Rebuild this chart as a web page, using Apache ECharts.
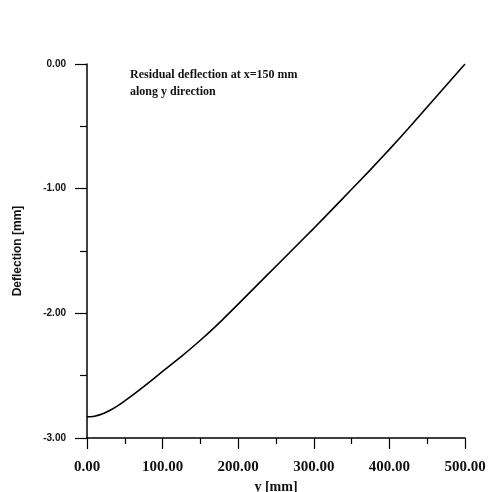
<!DOCTYPE html>
<html>
<head>
<meta charset="utf-8">
<script src="https://cdn.jsdelivr.net/npm/echarts@6/dist/echarts.min.js"></script>
<style>html,body{margin:0;padding:0;background:#fff}#c{width:489px;height:492px}</style>
</head>
<body>
<div id="c"></div>
<script>
const yPositions = [0, 5, 10, 20, 30, 40, 50, 75, 100, 125, 150, 175, 200, 225, 250, 275, 300, 325, 350, 375, 400, 425, 450, 475, 500];
const deflection = [-2.83, -2.829, -2.825, -2.807, -2.779, -2.744, -2.703, -2.588, -2.466, -2.345, -2.216, -2.076, -1.926, -1.774, -1.622, -1.47, -1.318, -1.162, -1.005, -0.8475, -0.685, -0.5175, -0.345, -0.1725, 0.0];
const xTicks = [0, 100, 200, 300, 400, 500];
const yTicks = [-3, -2, -1, 0];
const annotation = ['Residual deflection at x=150 mm', 'along y direction'];

const chart = echarts.init(document.getElementById('c'), null, {renderer: 'canvas'});
const serif = '"Liberation Serif", "DejaVu Serif", serif';
const sans = '"Liberation Sans", Arial, sans-serif';
chart.setOption({
  animation: false,
  backgroundColor: '#fff',
  grid: {left: 87, right: 24, top: 64, bottom: 54, containLabel: false, outerBoundsMode: 'none'},
  xAxis: {
    type: 'value', min: xTicks[0], max: xTicks[xTicks.length-1], interval: 100,
    name: 'y [mm]', nameLocation: 'middle', nameGap: 37,
    nameTextStyle: {fontFamily: serif, fontSize: 14, fontWeight: 'bold', color: '#111'},
    axisLine: {show: true, onZero: false, lineStyle: {color: '#000', width: 1.5}},
    axisTick: {show: true, inside: false, length: 11, lineStyle: {color: '#000', width: 1.2}},
    minorTick: {show: true, splitNumber: 2, length: 6, lineStyle: {color: '#000', width: 1.2}},
    splitLine: {show: false},
    axisLabel: {margin: 22, fontFamily: serif, fontSize: 15, fontWeight: 'bold', color: '#111',
      formatter: v => v.toFixed(2)}
  },
  yAxis: {
    type: 'value', min: yTicks[0], max: yTicks[yTicks.length-1], interval: 1,
    name: 'Deflection [mm]', nameLocation: 'middle', nameGap: 63, nameRotate: 90,
    nameTextStyle: {fontFamily: sans, fontSize: 12, fontWeight: 'bold', color: '#111'},
    axisLine: {show: true, onZero: false, lineStyle: {color: '#000', width: 1.5}},
    axisTick: {show: true, inside: false, length: 12, lineStyle: {color: '#000', width: 1.2}},
    minorTick: {show: true, splitNumber: 2, length: 7, lineStyle: {color: '#000', width: 1.2}},
    splitLine: {show: false},
    axisLabel: {margin: 21, fontFamily: sans, fontSize: 10, fontWeight: 'bold', color: '#111',
      formatter: v => v.toFixed(2)}
  },
  graphic: [{
    type: 'text', left: 130, top: 66,
    style: {text: annotation.join('\n'), font: 'bold 12px ' + serif, fill: '#111', lineHeight: 17}
  }],
  series: [{
    type: 'line', smooth: 0.15, showSymbol: false,
    data: yPositions.map((x, i) => [x, deflection[i]]),
    lineStyle: {color: '#000', width: 1.6}
  }]
});
</script>
</body>
</html>
